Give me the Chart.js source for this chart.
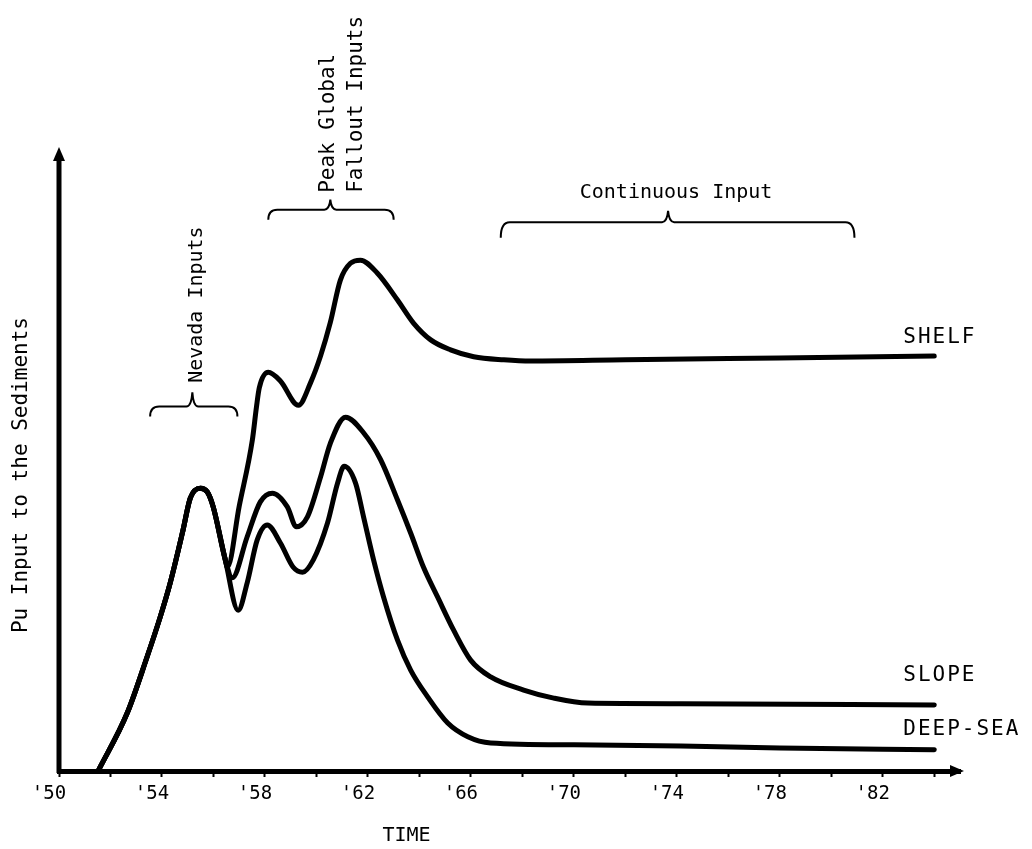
<!DOCTYPE html>
<html>
<head>
<meta charset="utf-8">
<script src="https://cdn.jsdelivr.net/npm/chart.js@4.4.1/dist/chart.umd.min.js"></script>
<style>
  html, body { margin: 0; padding: 0; background: #fff; }
  canvas { display: block; }
</style>
</head>
<body>
<canvas id="c" width="1032" height="849"></canvas>
<script>
// ---- Data ----
const commonYears  = [51.52, 52.65, 53.42, 53.93, 54.32, 54.82, 55.10, 55.49, 55.76, 55.99, 56.46];
const commonValues = [0.0,   9.3,   18.3,  24.7,  30.2,  38.7,  43.8,  45.4,  44.8,  42.4,  33.9];

const shelfYears  = [56.54, 57.00, 57.51, 57.67, 57.78, 58.13, 58.60, 59.30, 59.77, 60.16, 60.54, 60.93, 61.32, 61.71, 62.37, 63.15, 63.77, 64.44, 65.21, 66.11, 67.28, 68.33, 72.00, 78.00, 84.00];
const shelfValues = [32.7,  42.5,  53.1,  58.4,  61.5,  64.0,  62.6,  58.7,  62.3,  66.6,  72.0,  78.8,  81.5,  82.0,  79.9,  75.6,  71.9,  69.2,  67.6,  66.5,  66.0,  65.8,  66.0,  66.3,  66.6];

const slopeYears  = [56.73, 57.31, 57.82, 58.29, 58.87, 59.22, 59.65, 60.16, 60.54, 61.13, 61.83, 62.49, 63.15, 63.66, 64.16, 64.71, 65.33, 65.99, 66.77, 68.05, 69.22, 70.54, 74.16, 84.00];
const slopeValues = [31.0,  37.6,  43.2,  44.6,  42.4,  39.2,  40.8,  47.2,  52.6,  56.8,  54.3,  50.0,  43.5,  38.2,  32.7,  27.9,  22.6,  17.8,  15.1,  13.0,  11.7,  10.9,  10.8,  10.6];

const deepYears  = [56.96, 57.31, 57.70, 58.09, 58.60, 59.10, 59.46, 59.88, 60.43, 60.82, 61.08, 61.52, 61.83, 62.22, 62.61, 63.15, 63.66, 64.32, 65.10, 65.88, 66.77, 70.00, 74.16, 78.00, 84.00];
const deepValues = [25.8,  30.2,  37.1,  39.5,  36.6,  32.7,  31.9,  33.9,  39.8,  46.2,  48.9,  46.2,  40.8,  33.9,  27.9,  21.0,  16.2,  11.9,  7.7,   5.5,   4.5,   4.2,   4.0,   3.7,   3.4];

const tickYears  = [50, 52, 54, 56, 58, 60, 62, 64, 66, 68, 70, 72, 74, 76, 78, 80, 82, 84];
const labelYears = [50, 54, 58, 62, 66, 70, 74, 78, 82];
const tickLabels = ["'50", "'54", "'58", "'62", "'66", "'70", "'74", "'78", "'82"];

const seriesNames = ["SHELF", "SLOPE", "DEEP-SEA"];
const xTitle = "TIME";
const yTitle = "Pu Input to the Sediments";

function toPoints(ys, vs) { return ys.map((x, i) => ({ x: x, y: vs[i] })); }
const commonPts = toPoints(commonYears, commonValues);
const shelfPts = commonPts.concat(toPoints(shelfYears, shelfValues));
const slopePts = commonPts.concat(toPoints(slopeYears, slopeValues));
const deepPts  = commonPts.concat(toPoints(deepYears, deepValues));

const MONO = "'DejaVu Sans Mono', 'Liberation Mono', monospace";

const decor = {
  id: 'decor',
  afterDraw(chart) {
    const ctx = chart.ctx;
    const xs = chart.scales.x, ys = chart.scales.y;
    const ca = chart.chartArea;
    const px = v => xs.getPixelForValue(v);
    const py = v => ys.getPixelForValue(v);
    ctx.save();
    ctx.fillStyle = '#000';
    ctx.strokeStyle = '#000';

    // y axis line + arrow
    ctx.lineWidth = 5;
    ctx.beginPath();
    ctx.moveTo(ca.left, ca.bottom + 2);
    ctx.lineTo(ca.left, ca.top + 8);
    ctx.stroke();
    ctx.beginPath();
    ctx.moveTo(ca.left, ca.top - 1);
    ctx.lineTo(ca.left - 6, ca.top + 13);
    ctx.lineTo(ca.left + 6, ca.top + 13);
    ctx.closePath();
    ctx.fill();
    // x axis arrow
    ctx.beginPath();
    ctx.moveTo(ca.right + 4, ca.bottom);
    ctx.lineTo(ca.right - 10, ca.bottom - 6);
    ctx.lineTo(ca.right - 10, ca.bottom + 6);
    ctx.closePath();
    ctx.fill();

    // braces
    function brace(x1, x2, xt, yArm, yEnd, yTip) {
      const X1 = px(x1), X2 = px(x2), XT = px(xt);
      const YA = py(yArm), YE = py(yEnd), YT = py(yTip);
      const r = 9;
      ctx.lineWidth = 2;
      ctx.beginPath();
      ctx.moveTo(X1, YE);
      ctx.quadraticCurveTo(X1, YA, X1 + r, YA);
      ctx.lineTo(XT - 6, YA);
      ctx.quadraticCurveTo(XT - 1, YA, XT, YT);
      ctx.quadraticCurveTo(XT + 1, YA, XT + 6, YA);
      ctx.lineTo(X2 - r, YA);
      ctx.quadraticCurveTo(X2, YA, X2, YE);
      ctx.stroke();
    }
    brace(53.54, 56.93, 55.18, 58.5, 56.9, 60.8);
    brace(58.13, 63.00, 60.54, 90.1, 88.5, 91.7);
    brace(67.16, 80.90, 73.66, 88.1, 85.6, 89.9);

    function vtext(t, x, y, size) {
      ctx.save();
      ctx.translate(px(x), py(y));
      ctx.rotate(-Math.PI / 2);
      ctx.font = size + 'px ' + MONO;
      ctx.textAlign = 'left';
      ctx.textBaseline = 'middle';
      ctx.fillText(t, 0, 0);
      ctx.restore();
    }
    vtext('Nevada Inputs', 55.37, 62.3, 20);
    vtext('Peak Global', 60.47, 92.8, 21);
    vtext('Fallout Inputs', 61.56, 92.8, 21);

    ctx.font = '20px ' + MONO;
    ctx.textAlign = 'center';
    ctx.textBaseline = 'middle';
    ctx.fillText('Continuous Input', px(73.97), py(92.8));

    // axis titles
    ctx.fillText(xTitle, px(63.5), ca.bottom + 65);
    ctx.save();
    ctx.translate(22, py(47.5));
    ctx.rotate(-Math.PI / 2);
    ctx.font = '21px ' + MONO;
    ctx.fillText(yTitle, 0, 0);
    ctx.restore();

    // series labels
    ctx.font = '21px ' + MONO;
    ctx.textAlign = 'left';
    try { ctx.letterSpacing = '2px'; } catch (e) {}
    const lx = px(84) - 31;
    ctx.fillText(seriesNames[0], lx, py(69.5));
    ctx.fillText(seriesNames[1], lx, py(15.4));
    ctx.fillText(seriesNames[2], lx, py(6.7));
    ctx.restore();
  }
};

const lineStyle = {
  borderColor: '#000',
  borderWidth: 5,
  pointRadius: 0,
  cubicInterpolationMode: 'monotone',
  borderCapStyle: 'round',
  borderJoinStyle: 'round',
  fill: false,
  clip: false
};

new Chart(document.getElementById('c'), {
  type: 'line',
  data: {
    datasets: [
      Object.assign({ label: seriesNames[0], data: shelfPts }, lineStyle),
      Object.assign({ label: seriesNames[1], data: slopePts }, lineStyle),
      Object.assign({ label: seriesNames[2], data: deepPts }, lineStyle)
    ]
  },
  options: {
    responsive: false,
    animation: false,
    devicePixelRatio: 1,
    layout: { padding: { left: 59, right: 72, top: 148, bottom: 0 } },
    plugins: { legend: { display: false }, tooltip: { enabled: false } },
    scales: {
      x: {
        type: 'linear',
        min: 50,
        max: 85,
        afterBuildTicks: s => { s.ticks = tickYears.map(v => ({ value: v })); },
        afterFit: s => { s.height = 78; },
        grid: { display: true, drawOnChartArea: false, drawTicks: true, tickLength: 6, tickWidth: 2, color: '#000' },
        border: { display: true, width: 5, color: '#000' },
        ticks: {
          autoSkip: false,
          maxRotation: 0,
          color: '#000',
          padding: 6,
          labelOffset: -10,
          font: { family: MONO, size: 19 },
          callback: v => { const i = labelYears.indexOf(v); return i >= 0 ? tickLabels[i] : ''; }
        }
      },
      y: { display: false, min: 0, max: 100 }
    }
  },
  plugins: [decor]
});
</script>
</body>
</html>
